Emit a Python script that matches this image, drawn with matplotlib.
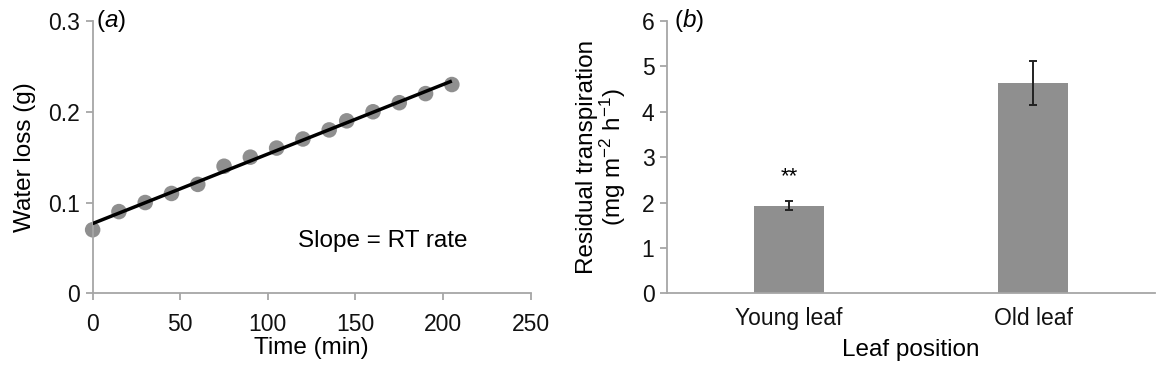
"""Two-panel figure: water loss over time (a) and residual transpiration by leaf position (b)."""

import matplotlib

matplotlib.use("Agg")
import matplotlib.pyplot as plt
import numpy as np

plt.rcParams["font.family"] = ["Liberation Sans", "DejaVu Sans"]
plt.rcParams["mathtext.fontset"] = "custom"
plt.rcParams["mathtext.rm"] = "Liberation Sans"
plt.rcParams["mathtext.it"] = "Liberation Sans:italic"
plt.rcParams["font.size"] = 17.5

# panel (a): cumulative water loss of a detached leaf
time_min = [0, 15, 30, 45, 60, 75, 90, 105, 120, 135, 145, 160, 175, 190, 205]
water_loss = [0.07, 0.09, 0.10, 0.11, 0.12, 0.14, 0.15, 0.16, 0.17, 0.18,
              0.19, 0.20, 0.21, 0.22, 0.23]

# panel (b): residual transpiration
positions = ["Young leaf", "Old leaf"]
rt_mean = [1.93, 4.63]
rt_err = [0.10, 0.48]
rt_sig = ["**", ""]

GREY = "#8f8f8f"
AXIS = "#a6a6a6"
INK = "#111111"
TICK_SIZE = 16.5

fig = plt.figure(figsize=(11.61, 3.67), dpi=100)
ax_a = fig.add_axes([0.0798, 0.2008, 0.3773, 0.742])
ax_b = fig.add_axes([0.5744, 0.2008, 0.4208, 0.742])

for ax in (ax_a, ax_b):
    for side in ("top", "right"):
        ax.spines[side].set_visible(False)
    for side in ("left", "bottom"):
        ax.spines[side].set_color(AXIS)
        ax.spines[side].set_linewidth(1.3)
    ax.tick_params(color=AXIS, width=1.3, length=5, labelcolor=INK,
                   labelsize=TICK_SIZE, pad=4)

# (a)
ax_a.scatter(time_min, water_loss, s=125, color=GREY, edgecolor="none",
             zorder=2, clip_on=False)
slope, intercept = np.polyfit(time_min, water_loss, 1)
fit_x = np.array([time_min[0], time_min[-1]])
ax_a.plot(fit_x, slope * fit_x + intercept, color="black", linewidth=2.5,
          zorder=3, solid_capstyle="butt")
ax_a.set_xlim(0, 250)
ax_a.set_ylim(0, 0.3)
ax_a.set_xticks([0, 50, 100, 150, 200, 250])
ax_a.set_yticks([0, 0.1, 0.2, 0.3])
ax_a.set_yticklabels(["0", "0.1", "0.2", "0.3"])
ax_a.tick_params(axis="x", pad=9)
ax_a.set_xlabel("Time (min)", labelpad=1)
ax_a.set_ylabel("Water loss (g)", labelpad=9)
ax_a.text(117, 0.0575, "Slope = RT rate", va="center", ha="left")
ax_a.text(2, 0.3, "($\\it{a}$)", va="center", ha="left")

# (b)
xs = np.arange(len(positions))
ax_b.bar(xs, rt_mean, width=0.285, color=GREY, zorder=2)
ax_b.errorbar(xs, rt_mean, yerr=rt_err, fmt="none", ecolor="#222222",
              elinewidth=1.4, capsize=3, capthick=1.4, zorder=3)
for x, m, e, s in zip(xs, rt_mean, rt_err, rt_sig):
    if s:
        ax_b.text(x, m + e + 0.3, s, ha="center", va="bottom", fontsize=16)
ax_b.set_xlim(-0.5, 1.5)
ax_b.set_ylim(0, 6)
ax_b.set_xticks(xs)
ax_b.set_xticklabels(positions)
ax_b.tick_params(axis="x", length=0, pad=10)
ax_b.set_yticks(range(7))
ax_b.set_xlabel("Leaf position", labelpad=6)
ax_b.set_ylabel("Residual transpiration\n(mg m$^{\\mathrm{-2}}$ h$^{\\mathrm{-1}}$)",
                labelpad=10, linespacing=1.0)
ax_b.text(-0.47, 6, "($\\it{b}$)", va="center", ha="left")

fig.savefig("out.png", dpi=100)
